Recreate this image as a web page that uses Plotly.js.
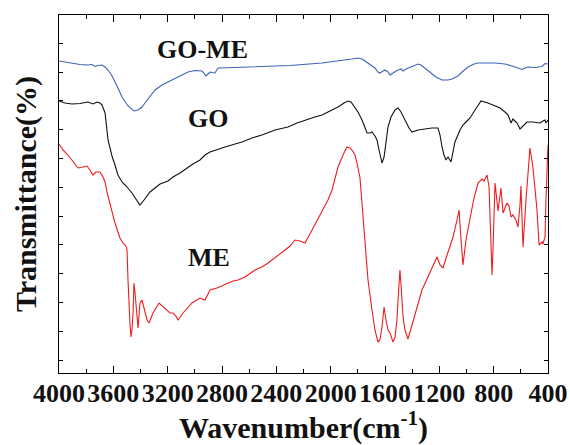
<!DOCTYPE html>
<html>
<head>
<meta charset="utf-8">
<script src="https://cdn.plot.ly/plotly-3.0.1.min.js"></script>
<style>html,body{margin:0;padding:0;background:#fff;}#chart{width:570px;height:445px;}</style>
</head>
<body>
<div id="chart"></div>
<script>
// GO-ME (blue)
var goMeWavenumber = [4000,3919,3845,3787,3757,3735,3713,3683,3661,3639,3610,3580,3536,3492,3448,3418,3389,3367,3330,3293,3242,3168,3109,3050,2999,2947,2933,2918,2903,2888,2874,2852,2829,2741,2557,2299,2064,1931,1843,1799,1769,1747,1710,1674,1652,1637,1615,1600,1578,1563,1541,1519,1504,1482,1467,1445,1416,1387,1357,1335,1306,1269,1225,1180,1136,1107,1063,1033,989,945,915,790,717,665,621,591,569,547,496,444,422,400];
var goMeTransmittance = [312,310,308.5,308,308.5,306.5,307.5,308,306,303,297,289,276,267,262,263,266,270,277,283,288,293,297,301,302.5,302,300,297,299,301,300.5,300,305,305.5,306,307.5,310,312,314,315,314,312,308,305,301,300,302,303,301,298,300,302,303,304,302,304,305.5,307,309,308,305,301,296,293,293,294,297,301,306,309,310,310,309,307,305,303.5,305,306,305.5,306.5,309.5,309];

// GO (black)
var goWavenumber = [4000,3956,3904,3845,3787,3750,3720,3698,3683,3661,3639,3625,3610,3588,3566,3536,3499,3463,3433,3404,3374,3330,3293,3256,3198,3161,3109,3058,3014,2962,2925,2888,2829,2778,2704,2653,2579,2506,2410,2314,2248,2189,2116,2064,2005,1946,1902,1872,1850,1821,1799,1769,1747,1732,1710,1696,1674,1659,1644,1622,1607,1593,1578,1556,1526,1504,1482,1453,1423,1401,1357,1306,1254,1210,1195,1180,1166,1151,1136,1114,1099,1085,1048,1026,996,974,937,915,893,842,790,753,717,694,680,672,658,643,628,606,584,555,511,459,437,422,415,400];
var goTransmittance = [272,270,269,269.5,271,269,271,270,268,260,233,225,217,208,198,191,186,180,174,168,173,181,185,189,192,196,200,205,209,213,218,221,224,226,229,231,235,238,243,246,250,253,256,258,262,266,270,272,271,266,261,253,245,240,240,241,237,233,223,210,216,230,246,256,263,265,261,253,245,241,243,244,245,245,238,226,218,213,216,211,221,231,243,248,252,255,263,268,272,270,267,265,261,258,253,250,254,252,250,244,247,251,251,250,252,253,250,253];

// ME (red)
var meWavenumber = [4000,3971,3934,3897,3860,3823,3794,3772,3750,3728,3713,3698,3676,3661,3647,3625,3588,3551,3529,3507,3499,3492,3485,3477,3470,3463,3455,3448,3441,3433,3426,3418,3411,3404,3389,3367,3352,3337,3308,3264,3220,3183,3161,3139,3124,3087,3021,2962,2925,2888,2837,2800,2756,2719,2682,2631,2557,2506,2461,2410,2336,2299,2263,2226,2189,2137,2064,2020,1990,1946,1909,1880,1858,1843,1821,1806,1784,1769,1747,1725,1696,1674,1652,1637,1622,1607,1593,1578,1563,1541,1526,1512,1504,1490,1482,1467,1453,1431,1401,1364,1328,1284,1247,1217,1195,1173,1143,1099,1070,1055,1040,1026,1004,974,945,915,886,871,849,834,827,812,805,790,768,746,731,702,687,672,658,636,621,606,599,591,584,562,547,533,511,481,466,444,437,422,415,407,400];
var meTransmittance = [229,223,218,211,205,206,207,203,198,201,201,201,196,191,181,170,150,135,130,127,123,93,68,48,36,43,60,90,81,66,51,45,58,70,73,60,53,50,60,70,65,60,60,57,53,60,70,75,73,83,85,87,90,92,93,96,103,106,110,115,123,127,133,132,130,143,161,173,183,206,218,226,225,223,218,210,195,170,133,93,63,43,31,33,46,66,53,43,40,31,36,53,73,103,88,56,43,34,48,65,83,96,108,116,108,105,118,136,153,163,133,108,133,156,175,190,194,192,198,186,153,98,123,190,162,185,160,170,167,156,158,153,146,168,187,163,126,173,203,225,206,163,128,131,129,136,173,213,228];

var xTickStart = 400, xTickStep = 400, xMinorStep = 200;
var yTick0 = 13, yTickStep = 28.8;

var serif = '"Liberation Serif", "Times New Roman", Times, serif';

var traces = [
  {x: goMeWavenumber, y: goMeTransmittance, mode: 'lines', line: {color: '#3f63b8', width: 1.1}, name: 'GO-ME'},
  {x: goWavenumber, y: goTransmittance, mode: 'lines', line: {color: '#111111', width: 1.1}, name: 'GO'},
  {x: meWavenumber, y: meTransmittance, mode: 'lines', line: {color: '#ee1c1c', width: 1.1}, name: 'ME'}
];

var layout = {
  width: 570, height: 445,
  margin: {l: 59, r: 22, t: 15, b: 72},
  paper_bgcolor: '#ffffff', plot_bgcolor: '#ffffff',
  showlegend: false,
  font: {family: serif},
  xaxis: {
    range: [4000, 400], autorange: false,
    tick0: xTickStart, dtick: xTickStep,
    ticks: 'inside', ticklen: 7, tickwidth: 1, tickcolor: '#000',
    minor: {dtick: xMinorStep, ticks: 'inside', ticklen: 4, tickwidth: 1, tickcolor: '#000', showgrid: false},
    showline: true, linecolor: '#000', linewidth: 1, mirror: 'ticks',
    showgrid: false, zeroline: false, tickangle: 0,
    ticklabelstandoff: -3,
    tickfont: {family: serif, size: 26, color: '#111', weight: 'bold'},
    title: {text: 'Wavenumber(cm<sup>-1</sup>)', font: {family: serif, size: 30, color: '#111', weight: 'bold'}, standoff: 4},
    automargin: false
  },
  yaxis: {
    range: [0, 358], autorange: false,
    tick0: yTick0, dtick: yTickStep,
    ticks: 'inside', ticklen: 4, tickwidth: 1, tickcolor: '#000',
    showticklabels: false,
    showline: true, linecolor: '#000', linewidth: 1, mirror: 'ticks',
    showgrid: false, zeroline: false,
    title: {text: 'Transmittance(%)', font: {family: serif, size: 30, color: '#111', weight: 'bold'}, standoff: 12},
    automargin: false
  },
  annotations: [
    {x: 2940, y: 324, xref: 'x', yref: 'y', text: 'GO-ME', showarrow: false, font: {family: serif, size: 26, color: '#111', weight: 'bold'}},
    {x: 2903, y: 255, xref: 'x', yref: 'y', text: 'GO', showarrow: false, font: {family: serif, size: 26, color: '#111', weight: 'bold'}},
    {x: 2896, y: 116, xref: 'x', yref: 'y', text: 'ME', showarrow: false, font: {family: serif, size: 26, color: '#111', weight: 'bold'}}
  ]
};

Plotly.newPlot('chart', traces, layout, {displayModeBar: false, staticPlot: true});
</script>
</body>
</html>
